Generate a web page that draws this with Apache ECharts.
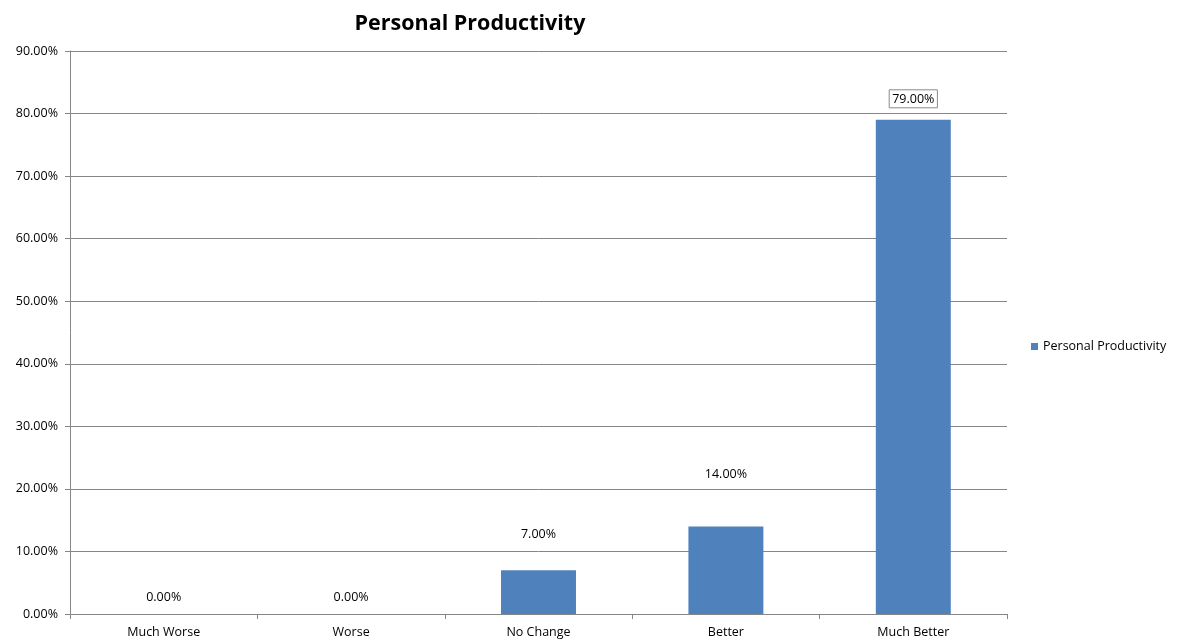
<!DOCTYPE html>
<html>
<head>
<meta charset="utf-8">
<script src="https://cdn.jsdelivr.net/npm/echarts@6/dist/echarts.min.js"></script>
<style>html,body{margin:0;padding:0;background:#fff;}#c{width:1177px;height:643px;}</style>
</head>
<body>
<div id="c"></div>
<script>
const title = 'Personal Productivity';
const seriesName = 'Personal Productivity';
const categories = ['Much Worse', 'Worse', 'No Change', 'Better', 'Much Better'];
const values = [0, 0, 7, 14, 79];
const yTicks = [0, 10, 20, 30, 40, 50, 60, 70, 80, 90];

const labelDistances = [10, 10, 29, 45, 12];
const font = '"Open Sans", "Noto Sans", sans-serif';

const chart = echarts.init(document.getElementById('c'));
chart.setOption({
  animation: false,
  backgroundColor: '#fff',
  title: {
    text: title, left: 465, top: 8, textAlign: 'center',
    textStyle: { fontFamily: font, fontWeight: 'bold', fontSize: 21.5, color: '#000' }
  },
  legend: {
    data: [seriesName], left: 1026, top: 335, orient: 'vertical',
    icon: 'rect', itemWidth: 7, itemHeight: 7, itemGap: 5,
    textStyle: { fontFamily: font, fontSize: 12.5, color: '#000' }
  },
  grid: { left: 70, right: 170, top: 51, bottom: 29, containLabel: false },
  xAxis: {
    type: 'category', data: categories,
    axisLine: { lineStyle: { color: '#868686', width: 1 } },
    axisTick: { show: true, alignWithLabel: false, length: 5, lineStyle: { color: '#868686' } },
    axisLabel: { fontFamily: font, fontSize: 12.5, color: '#000', margin: 12 }
  },
  yAxis: {
    type: 'value', min: yTicks[0], max: yTicks[yTicks.length - 1], interval: 10,
    axisLine: { show: true, lineStyle: { color: '#868686', width: 1 } },
    axisTick: { show: true, length: 5, lineStyle: { color: '#868686' } },
    axisLabel: { fontFamily: font, fontSize: 12.5, color: '#000', margin: 12,
      formatter: v => v.toFixed(2) + '%' },
    splitLine: { lineStyle: { color: '#868686', width: 1 } }
  },
  series: [{
    name: seriesName, type: 'bar', barWidth: '40%',
    itemStyle: { color: '#4F81BD' },
    data: values.map((v, i) => ({
      value: v,
      label: Object.assign({ distance: labelDistances[i] },
        i === values.length - 1 ? { borderColor: '#8a8a8a', borderWidth: 1, padding: [3, 3, 2, 3] } : {})
    })),
    label: {
      show: true, position: 'top', fontFamily: font, fontSize: 12.5, color: '#000',
      formatter: p => p.value.toFixed(2) + '%'
    }
  }]
});
</script>
</body>
</html>
